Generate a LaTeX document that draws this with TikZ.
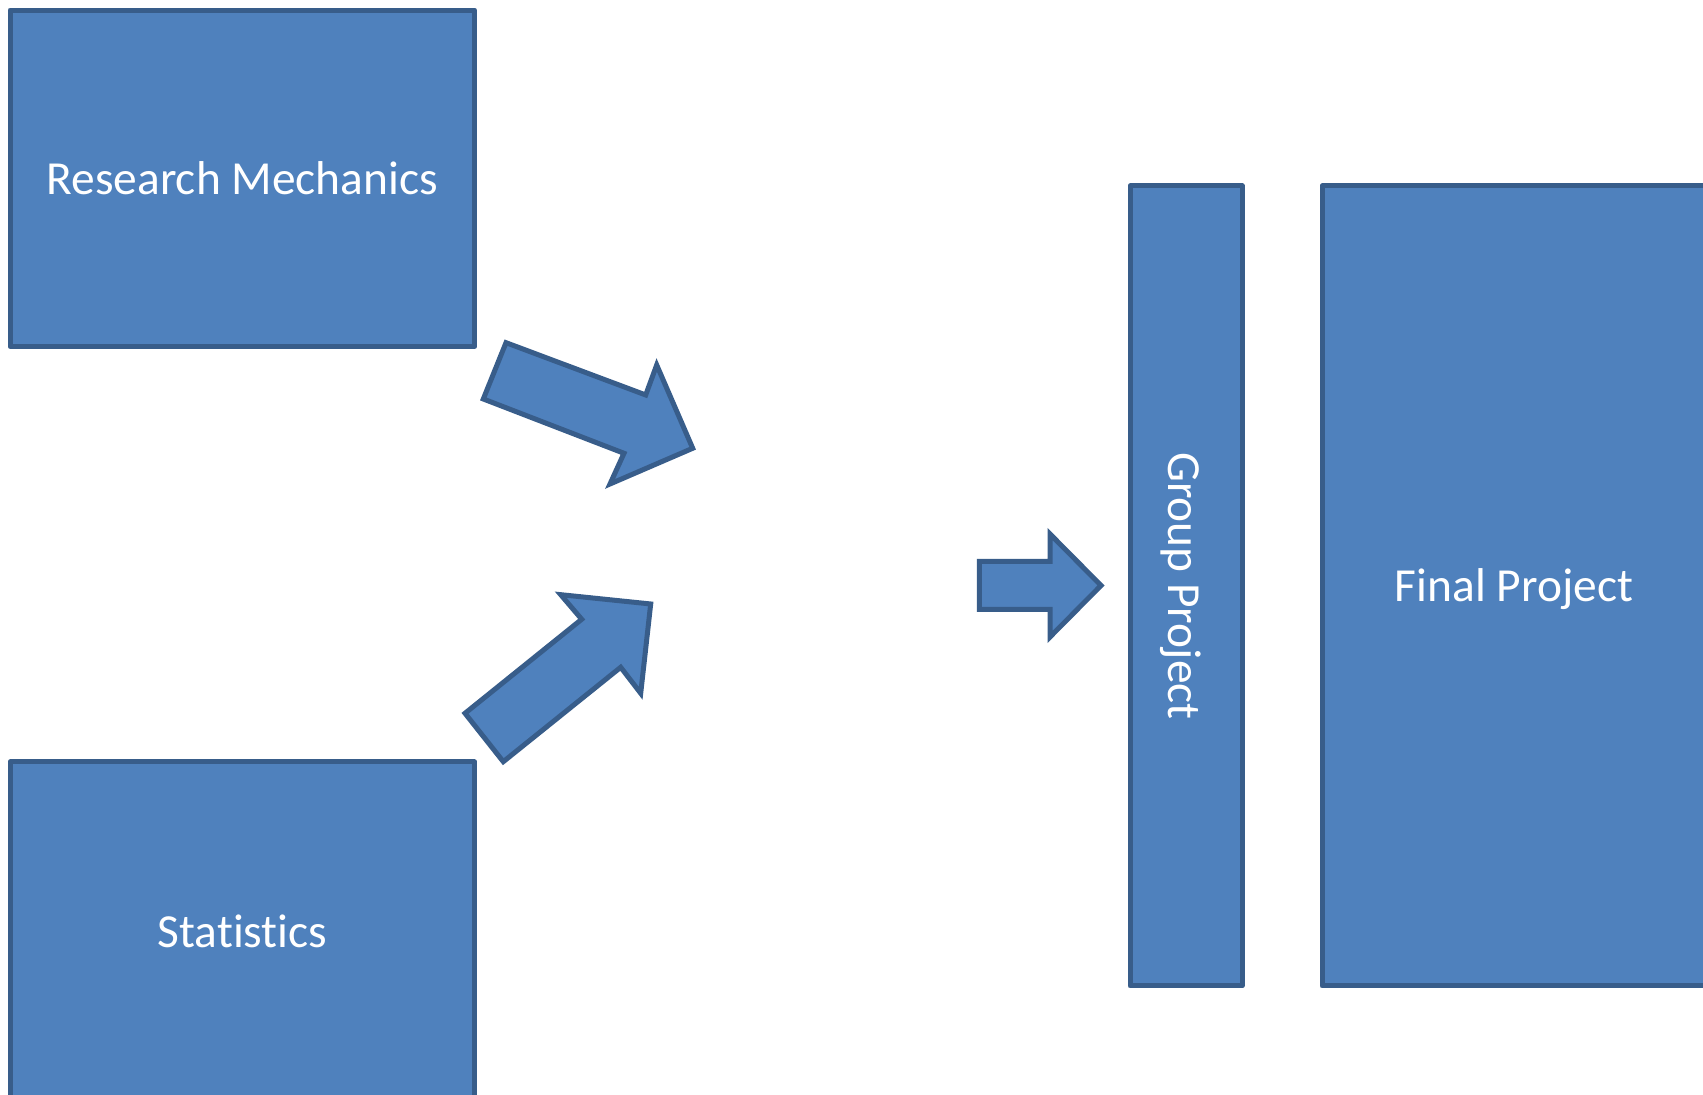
\documentclass[tikz,border=0pt]{standalone}
\usepackage{fontspec}
\setmainfont{Carlito}[Ligatures=NoCommon, RawFeature={-liga;-clig}]
\usetikzlibrary{positioning}

\definecolor{boxfill}{HTML}{4F81BD}
\definecolor{boxline}{HTML}{385D8A}

\begin{document}
\begin{tikzpicture}[blockbox/.style={rectangle,
                     draw=boxline,
                     line width=0.05cm,
                     line join=round,
                     fill=boxfill,
                     text=white,
                     inner sep=0pt,
                     font=\fontsize{13.5}{16}\selectfont},
                    boxlabel/.style={draw=none,
                     text=white,
                     font=\fontsize{13.5}{16}\selectfont},
                    blockarrow/.style={draw=boxline,
                     line width=0.05cm,
                     line join=miter,
                     fill=boxfill}]
              \useasboundingbox (0,0) rectangle (17.03,10.95);

              \node[blockbox,
                     minimum width = 4.646cm,
                     minimum height = 3.365cm] (research) at (2.423,9.167) {Research Mechanics};
              \node[blockbox,
                     minimum width = 4.646cm,
                     minimum height = 3.38cm] (stats) at (2.423,1.64) {Sta\kern0pt ti\kern0pt stics};
              \node[blockbox,
                     minimum width = 1.12cm,
                     minimum height = 8cm] (group) at (11.86,5.09) {};
              \node[boxlabel, rotate=-90] (grouplabel) at ([xshift=-0.05cm]group.center) {Group Project};
              \node[blockbox,
                     minimum width = 3.84cm,
                     minimum height = 8cm] (final) at (15.14,5.09) {};
              \node[boxlabel] (finallabel) at ([yshift=-0.03cm]final.center) {Final Project};

              % block arrows
              \draw[blockarrow] (5.06,7.523) -- (6.457,7.00) -- (6.567,7.30) -- (6.927,6.467)
                     -- (6.10,6.11) -- (6.24,6.417) -- (4.833,6.96) -- cycle;
              \draw[blockarrow] (4.65,3.817) -- (5.817,4.757) -- (5.607,5.003) -- (6.507,4.91)
                     -- (6.407,4.017) -- (6.207,4.277) -- (5.033,3.333) -- cycle;
              \draw[blockarrow] (9.793,5.335) -- (10.50,5.335) -- (10.50,5.61) -- (11.01,5.095)
                     -- (10.50,4.58) -- (10.50,4.855) -- (9.793,4.855) -- cycle;

       \end{tikzpicture}
\end{document}
